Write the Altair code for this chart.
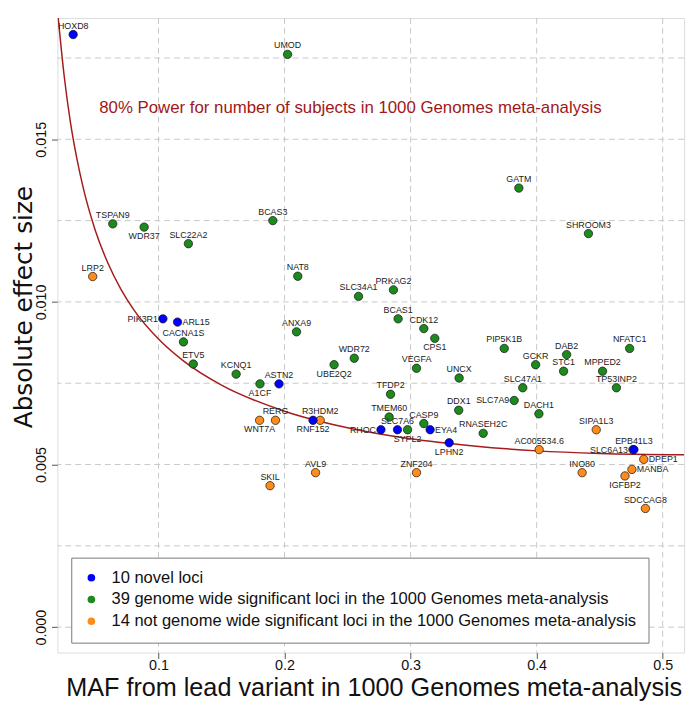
import altair as alt
import pandas as pd

# ---- data ----
CAT_NOVEL = "10 novel loci"
CAT_SIG = "39 genome wide significant loci in the 1000 Genomes meta-analysis"
CAT_NS = "14 not genome wide significant loci in the 1000 Genomes meta-analysis"

sig_genes = ["UMOD", "TSPAN9", "WDR37", "SLC22A2", "BCAS3", "GATM", "SHROOM3", "NAT8",
             "CACNA1S", "ANXA9", "ETV5", "KCNQ1", "A1CF", "UBE2Q2", "SLC34A1", "PRKAG2",
             "BCAS1", "CDK12", "CPS1", "WDR72", "VEGFA", "UNCX", "PIP5K1B", "GCKR", "DAB2",
             "STC1", "NFATC1", "MPPED2", "TP53INP2", "SLC47A1", "SLC7A9", "DACH1", "TFDP2",
             "DDX1", "TMEM60", "CASP9", "RNASEH2C", "SYPL2", "SLC6A13"]
sig_maf = [0.2024, 0.0637, 0.0886, 0.1237, 0.1907, 0.3859, 0.4411, 0.2105,
           0.1198, 0.2095, 0.1276, 0.1616, 0.1805, 0.2393, 0.2587, 0.2864,
           0.2901, 0.3105, 0.3192, 0.2553, 0.3047, 0.3385, 0.3743, 0.3992, 0.4238,
           0.4214, 0.4738, 0.4523, 0.4633, 0.3890, 0.3822, 0.4018, 0.2841,
           0.3382, 0.2830, 0.3105, 0.3576, 0.2976, 0.4764]
sig_beta = [0.01761, 0.01240, 0.01230, 0.01179, 0.01250, 0.01350, 0.01210, 0.01079,
            0.00877, 0.00908, 0.00809, 0.00778, 0.00748, 0.00807, 0.01017, 0.01037,
            0.00948, 0.00918, 0.00888, 0.00827, 0.00796, 0.00766, 0.00857, 0.00807, 0.00838,
            0.00787, 0.00857, 0.00787, 0.00736, 0.00736, 0.00697, 0.00656, 0.00716,
            0.00667, 0.00646, 0.00626, 0.00596, 0.00607, 0.00546]

ns_genes = ["LRP2", "WNT7A", "RERG", "R3HDM2", "AVL9", "SKIL", "ZNF204", "AC005534.6",
            "SIPA1L3", "INO80", "DPEP1", "MANBA", "IGFBP2", "SDCCAG8"]
ns_maf = [0.0478, 0.1802, 0.1928, 0.2283, 0.2246, 0.1885, 0.3047, 0.4020,
          0.4473, 0.4361, 0.4850, 0.4756, 0.4701, 0.4863]
ns_beta = [0.01078, 0.00636, 0.00636, 0.00636, 0.00475, 0.00435, 0.00475, 0.00546,
           0.00607, 0.00475, 0.00516, 0.00485, 0.00465, 0.00365]

novel_genes = ["HOXD8", "PIK3R1", "ARL15", "ASTN2", "RNF152", "RHOC", "SLC7A6", "EYA4",
               "LPHN2", "EPB41L3"]
novel_maf = [0.0323, 0.1035, 0.1151, 0.1956, 0.2226, 0.2765, 0.2896, 0.3155,
             0.3306, 0.4772]
novel_beta = [0.01822, 0.00948, 0.00938, 0.00748, 0.00636, 0.00607, 0.00607, 0.00607,
              0.00567, 0.00546]

# 80% power curve
curve_maf = [0.0200, 0.0250, 0.0300, 0.0350, 0.0400, 0.0500, 0.0600, 0.0700, 0.0800,
             0.1000, 0.1200, 0.1500, 0.2000, 0.2500, 0.3000, 0.3500, 0.4000, 0.4500, 0.5170]
curve_beta = [0.01890, 0.01700, 0.01555, 0.01445, 0.01355, 0.01218, 0.01118, 0.01040,
              0.00978, 0.00886, 0.00818, 0.00744, 0.00664, 0.00613, 0.00579, 0.00557,
              0.00542, 0.00534, 0.00530]

x_ticks = [0.1, 0.2, 0.3, 0.4, 0.5]
y_ticks = [0.0, 0.005, 0.010, 0.015]
x_grid = [0.1, 0.2, 0.3, 0.4, 0.5]
y_grid = [0.0, 0.0025, 0.005, 0.0075, 0.010, 0.0125, 0.015, 0.0175]

# label placement (styling, kept apart from the data)
LABEL_BELOW = {"WDR37", "CPS1", "UBE2Q2", "A1CF", "WNT7A", "RNF152", "SYPL2", "LPHN2", "IGFBP2"}
LABEL_LEFT = {"PIK3R1", "RHOC", "SLC7A9", "SLC6A13"}
LABEL_RIGHT = {"ARL15", "EYA4", "DPEP1", "MANBA"}

rows = []
for genes, mafs, betas, cat in [(sig_genes, sig_maf, sig_beta, CAT_SIG),
                                (ns_genes, ns_maf, ns_beta, CAT_NS),
                                (novel_genes, novel_maf, novel_beta, CAT_NOVEL)]:
    for g, m, b in zip(genes, mafs, betas):
        pos = "above"
        if g in LABEL_BELOW:
            pos = "below"
        elif g in LABEL_LEFT:
            pos = "left"
        elif g in LABEL_RIGHT:
            pos = "right"
        rows.append({"gene": g, "maf": m, "beta": b, "group": cat, "pos": pos})
df = pd.DataFrame(rows)
df["ord"] = range(len(df))

curve_df = pd.DataFrame({"maf": curve_maf, "beta": curve_beta})

X_DOM = [0.0198, 0.517]
Y_DOM = [-0.00078, 0.01873]
xs = alt.Scale(domain=X_DOM, nice=False, zero=False)
ys = alt.Scale(domain=Y_DOM, nice=False, zero=False)

FONT = "Liberation Sans"

XAX = alt.Axis(values=x_ticks, format=".1f", grid=False, domain=False,
               tickSize=6, tickColor="#555", labelFontSize=14.5, labelPadding=0,
               labelColor="#111", labelFont=FONT,
               title="MAF from lead variant in 1000 Genomes meta-analysis",
               titleFont=FONT, titleFontSize=25.5, titleFontWeight="normal",
               titleColor="#111", titleBaseline="alphabetic", titleY=43, titleX=320)
YAX = alt.Axis(values=y_ticks, format=".3f", grid=False, domain=False,
               tickSize=6, tickColor="#555", labelFontSize=14.5, labelPadding=3,
               labelAngle=-90, labelAlign="center", labelBaseline="bottom",
               labelColor="#111", labelFont=FONT,
               title="Absolute effect size", titleFont="DejaVu Sans", titleFontSize=25,
               titleFontWeight="normal", titleColor="#111", titleAngle=-90,
               titleAlign="center", titleBaseline="alphabetic", titleX=-26.5, titleY=292)

def X(field):
    return alt.X(field, scale=xs, axis=XAX)

def Y(field):
    return alt.Y(field, scale=ys, axis=YAX)

xgrid = alt.Chart(pd.DataFrame({"v": x_grid})).mark_rule(
    color="#c8c8c8", strokeDash=[6, 4], strokeWidth=1).encode(x=X("v:Q"))
ygrid = alt.Chart(pd.DataFrame({"v": y_grid})).mark_rule(
    color="#c8c8c8", strokeDash=[6, 4], strokeWidth=1).encode(y=Y("v:Q"))

curve = alt.Chart(curve_df).mark_line(
    color="#a51c1c", strokeWidth=1.5, interpolate="monotone", clip=True).encode(
    x=X("maf:Q"), y=Y("beta:Q"), order=alt.Order("maf:Q"))

color_scale = alt.Scale(domain=[CAT_NOVEL, CAT_SIG, CAT_NS],
                        range=["#0000ff", "#1c8a1c", "#ff8c1a"])

points = alt.Chart(df).mark_point(
    filled=True, size=72, stroke="#111", strokeWidth=0.7, opacity=1).encode(
    x=X("maf:Q"), y=Y("beta:Q"),
    fill=alt.Fill("group:N", scale=color_scale,
                  legend=alt.Legend(title=None, orient="none", legendX=14, legendY=546,
                                    fillColor="white", strokeColor="#777", padding=12,
                                    rowPadding=4, labelFontSize=16.7, labelFont=FONT,
                                    labelColor="#111", labelLimit=0, symbolType="circle",
                                    symbolSize=60, symbolStrokeWidth=0, labelOffset=12,
                                    cornerRadius=0)),
    order=alt.Order("ord:Q"))

def labels(pos, align, baseline, dx, dy):
    return alt.Chart(df).transform_filter(alt.datum.pos == pos).mark_text(
        align=align, baseline=baseline, dx=dx, dy=dy, fontSize=9, font=FONT,
        color="#222").encode(x=X("maf:Q"), y=Y("beta:Q"), text="gene:N")

lab_above = labels("above", "center", "middle", 0, -9)
lab_below = labels("below", "center", "middle", 0, 9)
lab_left = labels("left", "right", "middle", -5, 0)
lab_right = labels("right", "left", "middle", 5, 0)

power_text = alt.Chart(pd.DataFrame({"maf": [0.0530], "beta": [0.01596],
                                     "t": ["80% Power for number of subjects in 1000 Genomes meta-analysis"]})
                       ).mark_text(align="left", baseline="middle", fontSize=17, font=FONT,
                                   color="#a01818").encode(
    x=X("maf:Q"), y=Y("beta:Q"), text="t:N")

chart = alt.layer(xgrid, ygrid, curve, points, lab_above, lab_below, lab_left, lab_right,
                  power_text).properties(
    width=634, height=642,
    autosize=alt.AutoSizeParams(type="none"),
    padding={"left": 50, "top": 6, "right": 8, "bottom": 50},
).configure_view(stroke="#777", strokeWidth=1.2).configure(background="white")

chart.save("out.html", embed_options={"renderer": "svg", "actions": False})
